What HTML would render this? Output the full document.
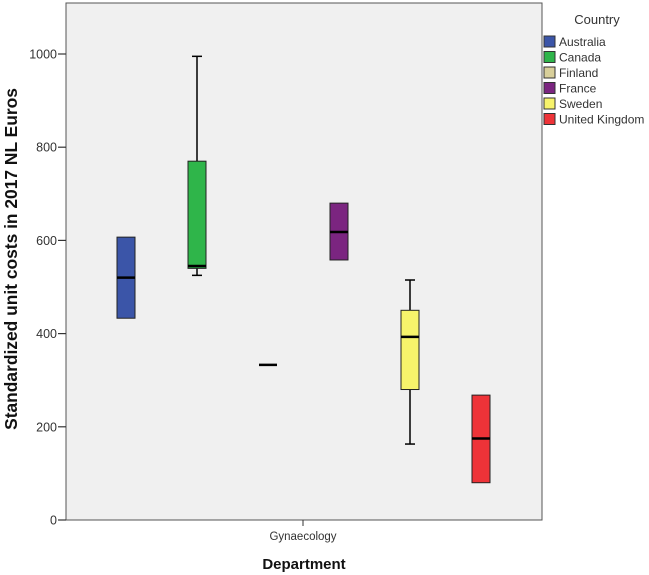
<!DOCTYPE html>
<html><head><meta charset="utf-8"><style>
body{margin:0;background:#fff;}
svg{display:block;font-family:"Liberation Sans",sans-serif;}
</style></head><body>
<svg id="chart" width="649" height="575"></svg>
<script>
const countries=["Australia","Canada","Finland","France","Sweden","United Kingdom"];
const colors=["#3b55a8","#2fb54a","#d8cf9a","#7b2580","#f7f36b","#ee3338"];
const q1=[433,540,333,558,280,80];
const medians=[520,545,333,618,393,175];
const q3=[607,770,333,680,450,268];
const whiskLo=[433,525,333,558,163,80];
const whiskHi=[607,995,333,680,515,268];
const yTicks=[0,200,400,600,800,1000];
const category="Gynaecology";

const NS="http://www.w3.org/2000/svg";
const svg=document.getElementById('chart');
const L=66,R=542,T=3,B=520;
const y=v=>B-v*0.466;
const x=i=>126+i*71;
function mk(tag,attrs,parent){const e=document.createElementNS(NS,tag);for(const k in attrs)e.setAttribute(k,attrs[k]);(parent||svg).appendChild(e);return e;}

const plot=mk('rect',{x:L,y:T,width:R-L,height:B-T,fill:'#f0f0f0',stroke:'#555','stroke-width':1});



yTicks.forEach(t=>{
  const g=mk('g',{});
  
  
  mk('line',{x1:L-8,x2:L,y1:y(t),y2:y(t),stroke:'#333','stroke-width':1.2},g);
  const tx=mk('text',{x:L-9,y:y(t)+4.5,'text-anchor':'end','font-size':12.5,fill:'#333'},g);
  tx.textContent=t;
});

countries.forEach((c,i)=>{
  const g=mk('g',{});
  
  
  const cx=x(i),w=18;
  if(whiskHi[i]>q3[i]){
    mk('line',{x1:cx,x2:cx,y1:y(q3[i]),y2:y(whiskHi[i]),stroke:'#000','stroke-width':1.5},g);
    mk('line',{x1:cx-5,x2:cx+5,y1:y(whiskHi[i]),y2:y(whiskHi[i]),stroke:'#000','stroke-width':1.5},g);
  }
  if(whiskLo[i]<q1[i]){
    mk('line',{x1:cx,x2:cx,y1:y(q1[i]),y2:y(whiskLo[i]),stroke:'#000','stroke-width':1.5},g);
    mk('line',{x1:cx-5,x2:cx+5,y1:y(whiskLo[i]),y2:y(whiskLo[i]),stroke:'#000','stroke-width':1.5},g);
  }
  if(q3[i]>q1[i]) mk('rect',{x:cx-w/2,y:y(q3[i]),width:w,height:y(q1[i])-y(q3[i]),fill:colors[i],stroke:'#222','stroke-width':1},g);
  mk('line',{x1:cx-w/2,x2:cx+w/2,y1:y(medians[i]),y2:y(medians[i]),stroke:'#000','stroke-width':2.5},g);
});

mk('line',{x1:303,x2:303,y1:B,y2:B+6,stroke:'#333'});
const cl=mk('text',{x:303,y:540,'text-anchor':'middle','font-size':11.5,fill:'#333'});
cl.textContent=category;



const xt=mk('text',{x:304,y:569,'text-anchor':'middle','font-size':15,'font-weight':'bold',fill:'#111'});
xt.textContent='Department';



const yt=mk('text',{x:0,y:0,'text-anchor':'middle','font-size':17.4,'font-weight':'bold',fill:'#111',transform:'translate(17,259) rotate(-90)'});
yt.textContent='Standardized unit costs in 2017 NL Euros';



const lt=mk('text',{x:597,y:24,'text-anchor':'middle','font-size':13,fill:'#333'});
lt.textContent='Country';



countries.forEach((c,i)=>{
  const g=mk('g',{});
  
  
  const yy=36+i*15.5;
  mk('rect',{x:544,y:yy,width:11,height:11,fill:colors[i],stroke:'#333','stroke-width':1},g);
  const t=mk('text',{x:559,y:yy+10,'font-size':12,fill:'#333'},g);
  t.textContent=c;
});
</script>
</body></html>
